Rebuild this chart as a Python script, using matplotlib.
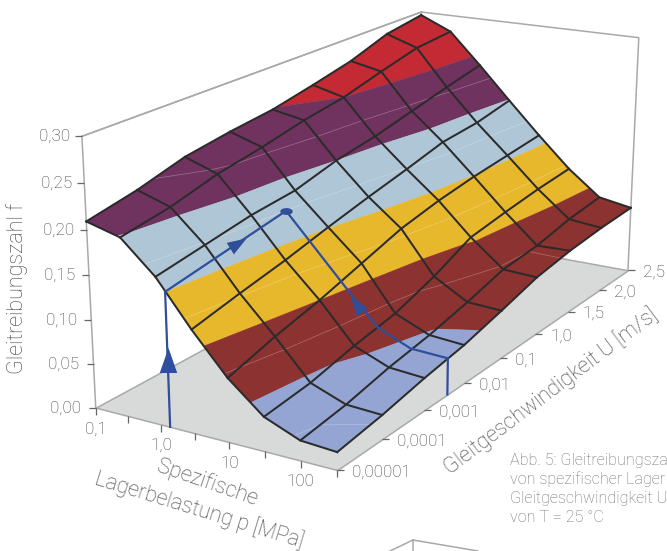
import matplotlib
matplotlib.use("Agg")
import matplotlib.pyplot as plt
import numpy as np
from matplotlib.lines import Line2D
from matplotlib.markers import TICKDOWN, TICKLEFT, TICKRIGHT
from matplotlib.path import Path
from matplotlib.transforms import Affine2D
from mpl_toolkits.mplot3d import proj3d
from mpl_toolkits.mplot3d.art3d import Line3DCollection, Poly3DCollection

plt.rcParams["font.family"] = ["Roboto", "DejaVu Sans"]
plt.rcParams["font.weight"] = "light"

W, H = 667, 551

# tick labels
p_labels = ["0,1", "1,0", "10", "100"]
p_label_idx = [0, 2, 4, 6]
u_labels = ["0,00001", "0,0001", "0,001", "0,01", "0,1", "1,0", "1,5", "2,0", "2,5"]
f_ticks = [0.0, 0.05, 0.10, 0.15, 0.20, 0.25, 0.30]
f_labels = ["0,00", "0,05", "0,10", "0,15", "0,20", "0,25", "0,30"]

# friction coefficient, one row per speed U, one column per load p
f_u0 = [0.209, 0.199, 0.164, 0.115, 0.071, 0.038, 0.022, 0.0195]
f_u1 = [0.220, 0.208, 0.173, 0.127, 0.087, 0.044, 0.029, 0.027]
f_u2 = [0.235, 0.222, 0.182, 0.138, 0.100, 0.056, 0.040, 0.037]
f_u3 = [0.243, 0.231, 0.187, 0.151, 0.116, 0.065, 0.048, 0.045]
f_u4 = [0.249, 0.242, 0.200, 0.163, 0.132, 0.082, 0.059, 0.057]
f_u5 = [0.2595, 0.250, 0.208, 0.174, 0.142, 0.104, 0.072, 0.070]
f_u6 = [0.271, 0.263, 0.219, 0.186, 0.149, 0.111, 0.076, 0.077]
f_u7 = [0.288, 0.275, 0.230, 0.190, 0.154, 0.117, 0.085, 0.081]
f_u8 = [0.296, 0.279, 0.240, 0.199, 0.159, 0.121, 0.090, 0.083]
Z = np.array([f_u0, f_u1, f_u2, f_u3, f_u4, f_u5, f_u6, f_u7, f_u8])
n_u, n_p = Z.shape

# blue reading path: up from the floor, along U, along p, down to the floor
path1_p, path1_u, path1_f = [2.27, 2.27], [0, 0], [0, 0.15]
path2_p, path2_u, path2_f = [2.27, 2.27], [0, 2.58], [0.15, 0.175]
path3_p = [2.27, 3.58, 4.33, 5.0, 5.94, 7]
path3_u = [2.58, 2.58, 2.58, 2.58, 2.58, 2.58]
path3_f = [0.175, 0.119, 0.087, 0.060, 0.044, 0.042]
path4_p, path4_u, path4_f = [7, 7], [2.58, 2.58], [0.042, 0]

bands = [0, 0.05, 0.10, 0.15, 0.20, 0.25, 0.30]
band_colors = ["#94a5d4", "#8c3230", "#e8b82c", "#afc6d6", "#70335f", "#c32a33"]
mid_levels = [0.025, 0.075, 0.125, 0.175, 0.225, 0.275]
grey = "#a9a9a9"
text_grey = "#404040"
blue = "#2f4f9b"
dark = "#2b2b2b"


def fx(px):
    return px / W


def fy(py):
    return 1 - py / H


def clip_level(poly, level, above):
    # Sutherland-Hodgman against a height level
    out = []
    for a, b in zip(poly, poly[1:] + poly[:1]):
        a_in = a[2] >= level if above else a[2] <= level
        b_in = b[2] >= level if above else b[2] <= level
        if a_in:
            out.append(a)
        if a_in != b_in:
            t = (level - a[2]) / (b[2] - a[2])
            out.append(tuple(a[k] + t * (b[k] - a[k]) for k in range(3)))
    return out


def level_segments(level):
    segs = []
    for j in range(n_u - 1):
        for i in range(n_p - 1):
            quad = [(i, j), (i + 1, j), (i + 1, j + 1), (i, j + 1)]
            hits = []
            for (i0, j0), (i1, j1) in zip(quad, quad[1:] + quad[:1]):
                z0, z1 = Z[j0, i0], Z[j1, i1]
                if (z0 - level) * (z1 - level) < 0:
                    t = (level - z0) / (z1 - z0)
                    hits.append((i0 + t * (i1 - i0), j0 + t * (j1 - j0), level))
            if len(hits) == 2:
                segs.append(hits)
    return segs


def camera(axes):
    # fit the perspective of the box to its corners, (p, U, f) -> picture pixel
    corners = [(0, 0, 0), (7, 0, 0), (7, 8, 0), (0, 0, 0.3), (0, 8, 0.3), (7, 8, 0.3)]
    pixels = [(96, 408), (337, 470), (628, 270), (82, 136), (421, 12), (639, 38)]
    A, b = [], []
    for (x, y, z), (u, v) in zip(corners, pixels):
        A.append([x, y, z, 1, 0, 0, 0, 0, -u * x, -u * y, -u * z])
        b.append(u)
        A.append([0, 0, 0, 0, x, y, z, 1, -v * x, -v * y, -v * z])
        b.append(v)
    c = np.linalg.lstsq(np.array(A), np.array(b), rcond=None)[0]
    P = np.append(c, 1).reshape(3, 4)
    # pixels to the 2D view coordinates of the axes
    inv = axes.transData.inverted()
    v0 = inv.transform((0, H))
    v1 = inv.transform((W, 0))
    row_x = (v1[0] - v0[0]) / W * P[0] + v0[0] * P[2]
    row_y = (v1[1] - v0[1]) / H * P[1] + v0[1] * P[2]
    return np.array([row_x, row_y, [0, 0, 0, -1], P[2]])


fig = plt.figure(figsize=(W / 100, H / 100), dpi=100)
ax = fig.add_axes([0, 0, 1, 1], projection="3d", computed_zorder=False)
ax.apply_aspect = lambda position=None: None
ax.set_axis_off()
M = camera(ax)
ax.get_proj = lambda: M


def tick_label(x, y, z, text, dx, dy, ha):
    px, py, _ = proj3d.proj_transform(x, y, z, M)
    ax.annotate(text, xy=(px, py), xytext=(dx, dy), textcoords="offset pixels", ha=ha, va="center",
                fontsize=12.3, color=text_grey, annotation_clip=False)


# floor
floor = Poly3DCollection([[(0, 0, 0), (7, 0, 0), (7, 8, 0), (0, 8, 0)]], facecolors="#d8dada", edgecolors=grey, linewidths=1.1, zorder=1)
ax.add_collection3d(floor, autolim=False)

# box outline
ax.plot([0, 0, 7, 7], [0, 8, 8, 8], [0.3, 0.3, 0.3, 0], color=grey, lw=1.1, zorder=1)
ax.plot([0, 0], [0, 0], [0, 0.3], color=grey, lw=1.1, zorder=1)
ax.plot([0, 0], [0, 8], [0.3, 0.3], color=grey, lw=1.1, zorder=1)
ax.plot([0, 0], [8, 8], [0, 0.3], color=grey, lw=1.1, zorder=1)

# surface, every cell cut along the colour bands
polys, colors = [], []
for j in range(n_u - 1):
    for i in range(n_p - 1):
        quad = [(i, j, Z[j, i]), (i + 1, j, Z[j, i + 1]), (i + 1, j + 1, Z[j + 1, i + 1]), (i, j + 1, Z[j + 1, i])]
        for lo, hi, col in zip(bands[:-1], bands[1:], band_colors):
            part = clip_level(quad, lo, True)
            if part:
                part = clip_level(part, hi, False)
            if len(part) >= 3:
                polys.append(part)
                colors.append(col)
surface = Poly3DCollection(polys, facecolors=colors, edgecolors=colors, linewidths=0.3, zorder=2)
ax.add_collection3d(surface, autolim=False)

# faint lines inside the bands
mid_segs = []
for level in mid_levels:
    mid_segs += level_segments(level)
ax.add_collection3d(Line3DCollection(mid_segs, colors="white", linewidths=0.5, alpha=0.3, zorder=3), autolim=False)

# mesh
p_idx = np.arange(n_p)
u_idx = np.arange(n_u)
for j in u_idx:
    ax.plot(p_idx, np.full(n_p, j), Z[j, :], color=dark, lw=1.45, zorder=4, solid_joinstyle="round")
for i in p_idx:
    ax.plot(np.full(n_u, i), u_idx, Z[:, i], color=dark, lw=1.45, zorder=4, solid_joinstyle="round")

# reading path
for xs, ys, zs in [(path1_p, path1_u, path1_f), (path2_p, path2_u, path2_f), (path3_p, path3_u, path3_f), (path4_p, path4_u, path4_f)]:
    ax.plot(xs, ys, zs, color=blue, lw=1.6, zorder=5)

triangle = Path([(0, 0.6), (0.42, -0.6), (-0.42, -0.6), (0, 0.6)])
for xs, ys, zs, rot, size in [([2.27], [0], [0.075], 0, 18), ([2.27], [1.5], [0.1645], -58, 17), ([4.35], [2.58], [0.083], 37, 17)]:
    ax.plot(xs, ys, zs, ls="none", marker=triangle.transformed(Affine2D().rotate_deg(rot)), ms=size, color=blue, mew=0, zorder=6)
dot = Path.unit_circle().transformed(Affine2D().scale(1, 0.55))
ax.plot([2.27], [2.58], [0.175], ls="none", marker=dot, ms=9, color=blue, mew=0, zorder=6)

# ticks and tick labels
tick_kw = dict(ls="none", color="#666666", ms=5, mew=0.9, zorder=1)
ax.plot(p_idx, np.zeros(n_p), np.zeros(n_p), marker=TICKDOWN, **tick_kw)
ax.plot(np.full(n_u, 7), u_idx, np.zeros(n_u), marker=TICKRIGHT, **tick_kw)
ax.plot(np.zeros(len(f_ticks)), np.zeros(len(f_ticks)), f_ticks, marker=TICKLEFT, **tick_kw)

for i, lab in zip(p_label_idx, p_labels):
    tick_label(i, 0, 0, lab, 0, -21, "center")
for j, lab in zip(u_idx, u_labels):
    tick_label(7, j, 0, lab, 15, -2, "left")
for val, lab in zip(f_ticks, f_labels):
    tick_label(0, 0, val, lab, -15 + 10 * val, 0, "right")

# axis titles and caption
label_kw = dict(ha="center", va="center", rotation_mode="anchor", fontsize=15.5, color=text_grey)
fig.text(fx(17), fy(289), "Gleitreibungszahl f", rotation=90, **label_kw)
fig.text(fx(207), fy(483), "Spezifische", rotation=-19, **label_kw)
fig.text(fx(199), fy(510), "Lagerbelastung p [MPa]", rotation=-17, **label_kw)
fig.text(fx(551), fy(391), "Gleitgeschwindigkeit U [m/s]", rotation=37, **label_kw)

caption = ["Abb. 5: Gleitreibungsza", "von spezifischer Lager", "Gleitgeschwindigkeit U", "von T = 25 °C"]
for py, line in zip([460, 479, 498, 518], caption):
    fig.text(fx(510), fy(py), line, ha="left", va="center", fontsize=11.6, color="#707070")

# top of the next figure on the page
for xs, ys in [([390, 413], [551, 540]), ([413, 413], [540, 551]), ([413, 478], [540, 551])]:
    fig.add_artist(Line2D([fx(x) for x in xs], [fy(y) for y in ys], color=grey, lw=1.1))

fig.savefig("out.png", dpi=100)
